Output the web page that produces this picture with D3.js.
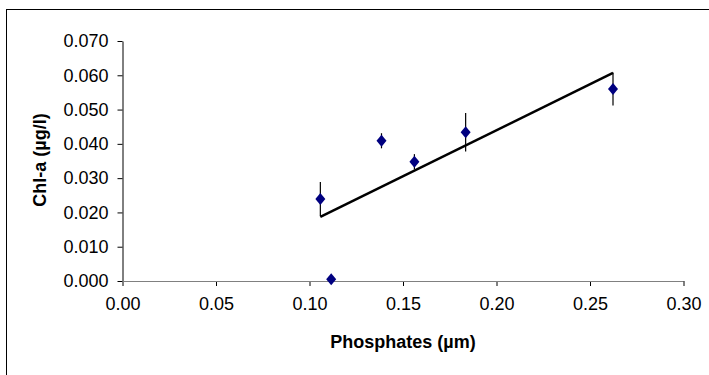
<!DOCTYPE html>
<html><head><meta charset="utf-8">
<script src="https://cdn.jsdelivr.net/npm/d3@7"></script>
<style>body{margin:0;background:#fff}svg{display:block}</style>
</head><body>
<script>
const phosphates = [0.1058, 0.1385, 0.1561, 0.1835, 0.1116, 0.2623];
const chla = [0.0239, 0.0409, 0.0348, 0.0434, 0.0005, 0.0560];
const chlaErr = [0.0050, 0.0022, 0.0022, 0.0056, 0, 0.0048];
const trendX = [0.1058, 0.2623];
const trendY = [0.0187, 0.0607];
const xTicks = [0, 0.05, 0.10, 0.15, 0.20, 0.25, 0.30];
const yTicks = [0, 0.01, 0.02, 0.03, 0.04, 0.05, 0.06, 0.07];

const W = 709, H = 375;
const svg = d3.select("body").append("svg").attr("width", W).attr("height", H);
svg.append("rect").attr("x", 6.5).attr("y", 9.5).attr("width", 720).attr("height", 400)
  .attr("fill", "none").attr("stroke", "#000").attr("stroke-width", 1);

const x = d3.scaleLinear().domain([0, 0.30]).range([122.5, 683.5]);
const y = d3.scaleLinear().domain([0, 0.07]).range([281, 41]);

const font = "'Liberation Sans', Arial, sans-serif";

const xa = svg.append("g").attr("transform", `translate(0,${y(0)})`)
  .call(d3.axisBottom(x).tickValues(xTicks).tickFormat(d3.format(".2f")).tickSizeInner(5).tickSizeOuter(0).tickPadding(11));
xa.select(".domain").attr("stroke", "#808080");
xa.selectAll(".tick line").attr("stroke", "#000");
xa.selectAll("text").attr("font-family", font).attr("font-size", 18).attr("fill", "#000");

const ya = svg.append("g").attr("transform", `translate(${x(0)},0)`)
  .call(d3.axisLeft(y).tickValues(yTicks).tickFormat(d3.format(".3f")).tickSizeInner(5).tickSizeOuter(0).tickPadding(9));
ya.select(".domain").attr("stroke", "#000");
ya.selectAll("text").attr("font-family", font).attr("font-size", 18).attr("fill", "#000");
svg.append("line").attr("x1", x(0)).attr("x2", x(0.30)).attr("y1", y(0)+0.5).attr("y2", y(0)+0.5)
  .attr("stroke", "#808080");

const data = phosphates.map((p, i) => ({x: p, y: chla[i], e: chlaErr[i]}));

svg.append("g").selectAll("line").data(data.filter(d => d.e > 0)).join("line")
  .attr("x1", d => x(d.x)).attr("x2", d => x(d.x))
  .attr("y1", d => y(d.y + d.e)).attr("y2", d => y(d.y - d.e))
  .attr("stroke", "#000").attr("stroke-width", 1.2);

svg.append("path")
  .attr("d", d3.line().x(d => x(d[0])).y(d => y(d[1]))(trendX.map((v, i) => [v, trendY[i]])))
  .attr("stroke", "#000").attr("stroke-width", 2.5).attr("fill", "none");

svg.append("g").selectAll("path").data(data).join("path")
  .attr("transform", d => `translate(${x(d.x)},${y(d.y)})`)
  .attr("d", "M0,-6L5,0L0,6L-5,0Z")
  .attr("fill", "#000080");

svg.append("text").attr("x", 403).attr("y", 348).attr("text-anchor", "middle")
  .attr("font-family", font).attr("font-size", 18).attr("font-weight", "bold").text("Phosphates (µm)");
svg.append("text").attr("transform", "translate(46,160) rotate(-90)").attr("text-anchor", "middle")
  .attr("font-family", font).attr("font-size", 18).attr("font-weight", "bold").text("Chl-a (µg/l)");
</script>
</body></html>
